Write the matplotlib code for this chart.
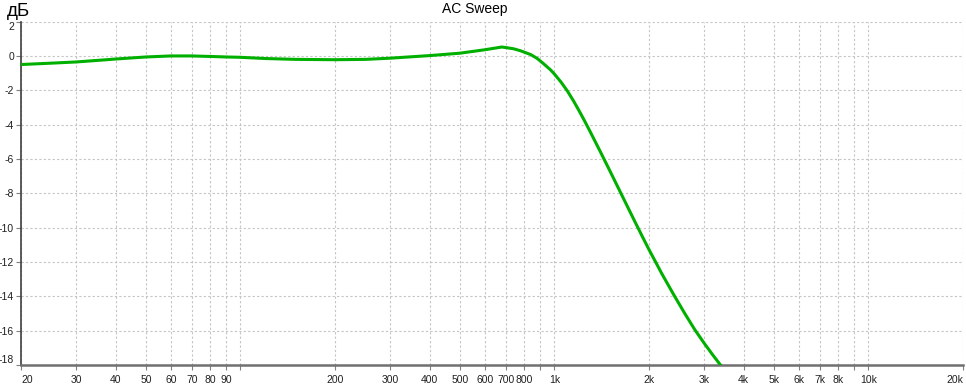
import matplotlib
matplotlib.use("Agg")
import matplotlib.pyplot as plt
from matplotlib.ticker import FixedLocator, FixedFormatter, NullLocator

# ---- data ----
freq_hz = [20, 25, 30, 35, 40, 50, 60, 70, 80, 90, 100, 120, 150, 200, 250,
           300, 330, 400, 500, 600, 680, 740, 780, 840, 880, 920, 970, 1000,
           1050, 1100, 1150, 1200, 1250, 1300, 1400, 1500, 1600, 1700, 1800,
           1900, 2000, 2200, 2400, 2600, 2800, 3000, 3200, 3450]
gain_db = [-0.50, -0.42, -0.35, -0.26, -0.18, -0.06, 0.00, 0.00, -0.03, -0.06,
           -0.08, -0.15, -0.20, -0.22, -0.20, -0.13, -0.08, 0.02, 0.16, 0.36,
           0.52, 0.42, 0.30, 0.08, -0.14, -0.43, -0.80, -1.06,
           -1.53, -2.05, -2.62, -3.22, -3.82, -4.42, -5.58, -6.68, -7.72,
           -8.70, -9.62, -10.48, -11.28, -12.70, -13.92, -15.00, -15.95,
           -16.74, -17.44, -18.22]

x_ticks = [20, 30, 40, 50, 60, 70, 80, 90, 100, 200, 300, 400, 500, 600, 700,
           800, 900, 1000, 2000, 3000, 4000, 5000, 6000, 7000, 8000, 9000,
           10000, 20000]
x_labels = ["20", "30", "40", "50", "60", "70", "80", "90", "", "200", "300",
            "400", "500", "600", "700", "800", "", "1k", "2k", "3k", "4k", "5k",
            "6k", "7k", "8k", "", "10k", "20k"]
y_ticks = [-18, -16, -14, -12, -10, -8, -6, -4, -2, 0, 2]
y_labels = ["-18", "-16", "-14", "-12", "-10", "-8", "-6", "-4", "-2", "0", "2"]

title = "AC Sweep"
y_unit = "дБ"

# ---- figure ----
W, H = 966, 384
fig = plt.figure(figsize=(W / 100, H / 100), dpi=100)
fig.patch.set_facecolor("white")
left, right, bottom, top = 21, 963, 365, 21.6
ax = fig.add_axes([left / W, 1 - bottom / H, (right - left) / W, (bottom - top) / H])

ax.plot(freq_hz, gain_db, color="#00b000", lw=2.2, solid_capstyle="round",
        solid_joinstyle="round", zorder=3)

ax.set_xscale("log")
ax.set_xlim(20, 20000)
ax.set_ylim(-18, 2)

font = "Liberation Sans"
ax.xaxis.set_major_locator(FixedLocator(x_ticks))
ax.xaxis.set_major_formatter(FixedFormatter(x_labels))
ax.xaxis.set_minor_locator(NullLocator())
ax.set_yticks(y_ticks)
ax.set_yticklabels(y_labels)

ax.tick_params(axis="both", which="major", length=3.5, width=0.8, color="#808080",
               labelsize=7.5, labelcolor="#202020")
ax.tick_params(axis="x", pad=4)
ax.tick_params(axis="y", pad=1.5)
for lab in ax.get_xticklabels() + ax.get_yticklabels():
    lab.set_fontfamily(font)

xl = ax.get_xticklabels()
xl[0].set_ha("left")
xl[-1].set_ha("right")
yl = ax.get_yticklabels()
yl[-1].set_va("top")
yl[0].set_va("bottom")

ax.grid(True, which="major", color="#c4c4c4", linestyle=(0, (2, 2)), lw=0.8)

for s in ["top", "right"]:
    ax.spines[s].set_visible(False)
ax.spines["left"].set_color("#404040")
ax.spines["left"].set_linewidth(1.2)
ax.spines["bottom"].set_color("#707070")
ax.spines["bottom"].set_linewidth(1.8)

fig.text(475 / W, 1 - 9 / H, title, ha="center", va="center", fontsize=10,
         family=font, color="#000000")
fig.text(7 / W, 1 - 11 / H, y_unit, ha="left", va="center", fontsize=13.5,
         family=["Liberation Sans", "DejaVu Sans"], color="#000000")

fig.savefig("out.png", dpi=100, facecolor="white")
